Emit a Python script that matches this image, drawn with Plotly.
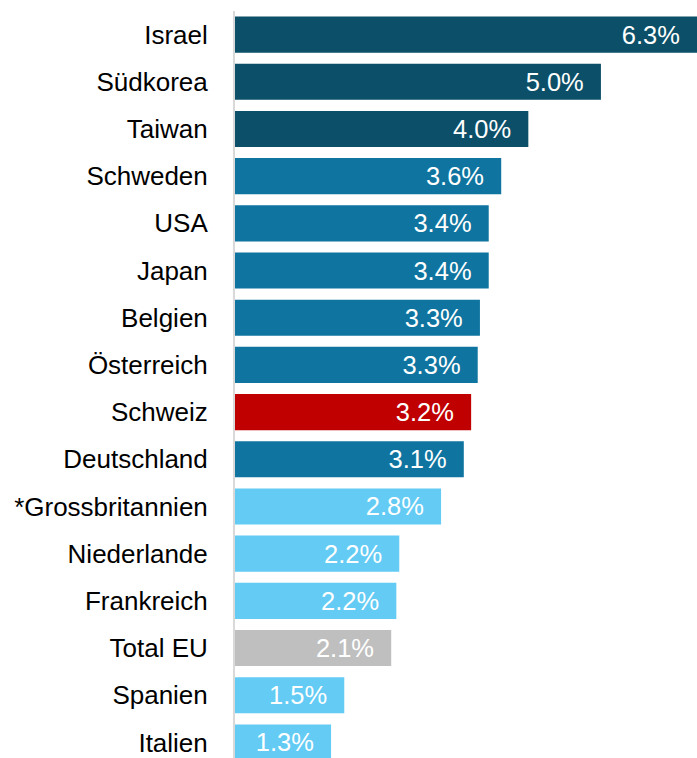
import plotly.graph_objects as go

countries = ["Israel", "Südkorea", "Taiwan", "Schweden", "USA", "Japan", "Belgien",
             "Österreich", "Schweiz", "Deutschland", "*Grossbritannien", "Niederlande",
             "Frankreich", "Total EU", "Spanien", "Italien"]
values = [6.30, 4.99, 4.00, 3.63, 3.46, 3.46, 3.34, 3.31, 3.22, 3.12, 2.81, 2.24,
          2.20, 2.13, 1.49, 1.31]
value_labels = ["6.3%", "5.0%", "4.0%", "3.6%", "3.4%", "3.4%", "3.3%", "3.3%", "3.2%",
                "3.1%", "2.8%", "2.2%", "2.2%", "2.1%", "1.5%", "1.3%"]
groups = ["top", "top", "top", "mid", "mid", "mid", "mid", "mid", "ch", "mid",
          "low", "low", "low", "eu", "low", "low"]

palette = {"top": "#0b4f68", "mid": "#0f75a0", "ch": "#c00000", "low": "#63cbf4",
           "eu": "#bfbfbf"}
colors = [palette[g] for g in groups]

fig = go.Figure(go.Bar(
    y=countries, x=values, orientation="h",
    marker=dict(color=colors, line=dict(width=0)),
    text=[t + "\u00a0\u00a0" for t in value_labels],
    textposition="inside", insidetextanchor="end",
    textfont=dict(color="white", size=25.5, family="Liberation Sans, Arial, sans-serif"),
    cliponaxis=False,
))

fig.update_layout(
    width=697, height=758,
    margin=dict(l=235, r=0, t=11, b=0),
    paper_bgcolor="white", plot_bgcolor="white",
    bargap=0.235,
    showlegend=False,
    font=dict(family="Liberation Sans, Arial, sans-serif", size=26, color="black"),
    uniformtext=dict(mode=False),
)
fig.update_xaxes(range=[0, 6.3], visible=False)
fig.update_yaxes(categoryorder="array", categoryarray=countries,
                 range=[15.33, -0.5], showgrid=False, zeroline=False,
                 showline=True, linecolor="#d9d9d9", linewidth=2, ticks="",
                 ticklabelstandoff=20,
                 tickfont=dict(size=26, color="black"))

fig.write_html("out.html")
